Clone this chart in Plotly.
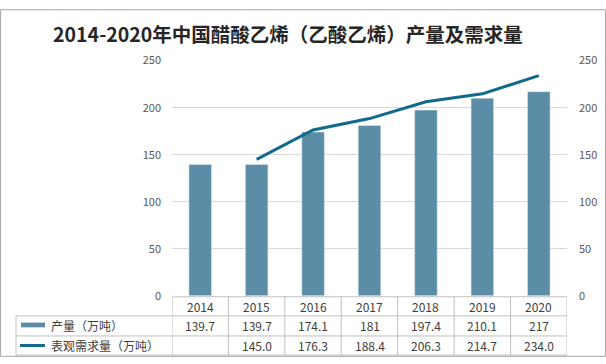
import plotly.graph_objects as go

years = ["2014", "2015", "2016", "2017", "2018", "2019", "2020"]
output = [139.7, 139.7, 174.1, 181, 197.4, 210.1, 217]
demand = [None, 145.0, 176.3, 188.4, 206.3, 214.7, 234.0]
y_ticks = [0, 50, 100, 150, 200, 250]

title = "2014-2020年中国醋酸乙烯（乙酸乙烯）产量及需求量"
name_output = "产量（万吨）"
name_demand = "表观需求量（万吨）"

W, H = 606, 364
BAR_C = "#5b8ea6"
LINE_C = "#0f6a8b"
GRID_C = "#d9d9d9"
TBL_C = "#bfbfbf"
TXT_C = "#404040"
FONT = "Noto Sans CJK SC"

def py(pix):
    return (H - pix) / H

def px(pix):
    return pix / W

x_left, x_right = 172, 567
y_top, y_bot = 54, 300

fig = go.Figure()
fig.add_trace(go.Bar(x=years, y=output, name=name_output, marker_color=BAR_C,
                     width=0.4, showlegend=False))
fig.add_trace(go.Scatter(x=years, y=demand, name=name_demand, mode="lines",
                         line=dict(color=LINE_C, width=3), showlegend=False,
                         connectgaps=False))
fig.add_trace(go.Scatter(x=years, y=output, yaxis="y2", mode="markers",
                         marker=dict(opacity=0), showlegend=False, hoverinfo="skip"))

fig.update_layout(
    width=W, height=H, margin=dict(l=0, r=0, t=0, b=0),
    paper_bgcolor="white", plot_bgcolor="white",
    font=dict(family=FONT, color=TXT_C, size=11),
    title=dict(text="<b>" + title + "</b>", x=288 / W, xanchor="center",
               y=py(35), yanchor="middle", font=dict(size=19.5, color="#262626", family=FONT)),
    xaxis=dict(type="category", domain=[px(x_left), px(x_right)], showticklabels=False,
               ticks="", showgrid=False, zeroline=False, showline=False, range=[-0.5, 6.5]),
    yaxis=dict(domain=[py(y_bot), py(y_top)], range=[0, 250], tickvals=y_ticks,
               showgrid=True, gridcolor=GRID_C, gridwidth=1, zeroline=False,
               tickfont=dict(color="#595959", size=11), ticks="", ticklabelstandoff=10),
    yaxis2=dict(overlaying="y", side="right", range=[0, 250], tickvals=y_ticks,
                showgrid=False, zeroline=False, tickfont=dict(color="#595959", size=11),
                ticks="", ticklabelstandoff=11),
    bargap=0.6,
)

shapes = []
line = dict(color=TBL_C, width=1)
shapes.append(dict(type="line", xref="paper", yref="paper", x0=px(x_left), x1=px(x_right),
                   y0=py(y_bot + 1), y1=py(y_bot + 1), line=line))
for yy in (321, 342, 362):
    shapes.append(dict(type="line", xref="paper", yref="paper", x0=px(16), x1=px(x_right),
                       y0=py(yy), y1=py(yy), line=line))
for i in range(len(years) + 1):
    shapes.append(dict(type="line", xref="x", yref="paper", x0=i - 0.5, x1=i - 0.5,
                       y0=py(y_bot + 1), y1=py(362), line=line))
shapes.append(dict(type="line", xref="paper", yref="paper", x0=px(16), x1=px(16),
                   y0=py(321), y1=py(362), line=line))
shapes.append(dict(type="rect", xref="paper", yref="paper", x0=px(21), x1=px(45),
                   y0=py(333), y1=py(328), fillcolor=BAR_C, line=dict(width=0)))
shapes.append(dict(type="line", xref="paper", yref="paper", x0=px(20), x1=px(45),
                   y0=py(352), y1=py(352), line=dict(color=LINE_C, width=3)))
shapes.append(dict(type="rect", xref="paper", yref="paper", x0=0.001, x1=0.999,
                   y0=0.002, y1=0.998, line=dict(color="#a6a6a6", width=1)))

ann = []
common = dict(showarrow=False, yanchor="middle", font=dict(size=12, color=TXT_C))
for i, yr in enumerate(years):
    ann.append(dict(x=i, y=py(311), xref="x", yref="paper", text=yr, xanchor="center", **common))
    ann.append(dict(x=i, y=py(331), xref="x", yref="paper", text=f"{output[i]:g}",
                    xanchor="center", **common))
    if demand[i] is not None:
        ann.append(dict(x=i, y=py(352), xref="x", yref="paper", text=f"{demand[i]:.1f}",
                        xanchor="center", **common))
ann.append(dict(x=px(49), y=py(331), xref="paper", yref="paper", text=name_output,
                xanchor="left", **common))
ann.append(dict(x=px(49), y=py(352), xref="paper", yref="paper", text=name_demand,
                xanchor="left", **common))

fig.update_layout(shapes=shapes, annotations=ann)
fig.write_html("out.html", config={"displayModeBar": False},
               post_script="document.body.style.margin='0';")
